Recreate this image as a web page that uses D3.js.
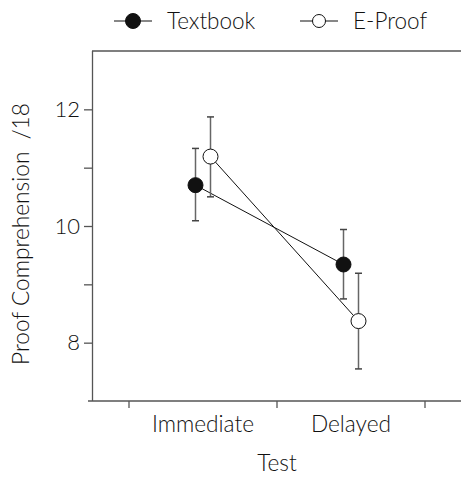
<!DOCTYPE html>
<html>
<head>
<meta charset="utf-8">
<script src="https://cdn.jsdelivr.net/npm/d3@7"></script>
<style>
  body { margin: 0; background: #fff; }
  text { font-family: Lato, "Open Sans", sans-serif; font-weight: 300; fill: #111; white-space: pre; }
</style>
</head>
<body>
<svg id="chart" width="461" height="477"></svg>
<script>
// data
let tests = ['Immediate', 'Delayed'];
let groups = ['Textbook', 'E-Proof'];
let textbookMean = [10.70, 9.34];
let textbookLow = [10.09, 8.75];
let textbookHigh = [11.33, 9.94];
let eproofMean = [11.19, 8.37];
let eproofLow = [10.50, 7.55];
let eproofHigh = [11.87, 9.19];
let yTicks = [8, 9, 10, 11, 12];
let yTickLabels = ['8', '', '10', '', '12'];

let series = [
  {name: 'Textbook', fill: '#111', mean: textbookMean, low: textbookLow, high: textbookHigh},
  {name: 'E-Proof', fill: '#fff', mean: eproofMean, low: eproofLow, high: eproofHigh}
];

let svg = d3.select('#chart');
let mLeft = 92, mRight = 461, mTop = 51, mBottom = 401;

// band edges sit at the ticks, labels in the middle of the bands
let x = d3.scaleBand().domain(tests).range([129, 425]).padding(0);
let y = d3.scaleLinear().domain([7, 13]).range([mBottom, mTop]);
let offset = d3.scalePoint().domain(groups).range([-7.5, 7.5]);

let axisColor = '#555';

// top frame line
svg.append('line')
  .attr('x1', mLeft).attr('x2', mRight)
  .attr('y1', mTop).attr('y2', mTop)
  .attr('stroke', axisColor).attr('stroke-width', 1.3);

// y axis
let yAxis = svg.append('g')
  .attr('transform', `translate(${mLeft},0)`)
  .call(d3.axisLeft(y).tickValues(yTicks).tickFormat((d, i) => yTickLabels[i]).tickSizeOuter(0).tickSize(8).tickPadding(4));
yAxis.select('.domain').attr('stroke', axisColor).attr('stroke-width', 1.3)
  .attr('d', `M0.5,${mTop}V${mBottom}`);
yAxis.selectAll('.tick line').attr('stroke', axisColor).attr('stroke-width', 1.3);
yAxis.selectAll('.tick text').style('font-size', '22px').style('font-family', 'Lato, sans-serif')
  .style('font-weight', 300).attr('fill', '#111');

// x axis: ticks at band boundaries
let edges = tests.map(t => x(t)).concat([x(tests[tests.length - 1]) + x.bandwidth()]);
let xg = svg.append('g');
xg.append('line')
  .attr('x1', mLeft - 4).attr('x2', mRight)
  .attr('y1', mBottom).attr('y2', mBottom)
  .attr('stroke', axisColor).attr('stroke-width', 1.3);
xg.selectAll('.xtick').data(edges).enter().append('line')
  .attr('x1', d => d).attr('x2', d => d)
  .attr('y1', mBottom).attr('y2', mBottom + 7)
  .attr('stroke', axisColor).attr('stroke-width', 1.3);
xg.selectAll('.xlabel').data(tests).enter().append('text')
  .attr('x', d => x(d) + x.bandwidth() / 2)
  .attr('y', mBottom + 31)
  .attr('text-anchor', 'middle')
  .style('font-size', '22.7px')
  .text(d => d);

// axis titles
svg.append('text')
  .attr('x', edges[1]).attr('y', 471)
  .attr('text-anchor', 'middle').style('font-size', '22.7px')
  .text('Test');
svg.append('text')
  .attr('transform', `translate(29,234) rotate(-90)`)
  .attr('text-anchor', 'middle').style('font-size', '22.7px')
  .text('Proof Comprehension  /18');

let cx = (s, i) => x(tests[i]) + x.bandwidth() / 2 + offset(s.name);

// connecting lines
svg.selectAll('.conn').data(series).enter().append('path')
  .attr('fill', 'none').attr('stroke', '#111').attr('stroke-width', 1)
  .attr('d', s => d3.line().x((d, i) => cx(s, i)).y(d => y(d))(s.mean));

// error bars and points
series.forEach(s => {
  let g = svg.append('g');
  s.mean.forEach((m, i) => {
    let px = cx(s, i);
    g.append('line').attr('x1', px).attr('x2', px)
      .attr('y1', y(s.low[i])).attr('y2', y(s.high[i]))
      .attr('stroke', '#666').attr('stroke-width', 1.5);
    [s.low[i], s.high[i]].forEach(v => {
      g.append('line').attr('x1', px - 3.5).attr('x2', px + 3.5)
        .attr('y1', y(v)).attr('y2', y(v))
        .attr('stroke', '#444').attr('stroke-width', 1.5);
    });
    g.append('circle').attr('cx', px).attr('cy', y(m)).attr('r', 7.5)
      .attr('fill', s.fill).attr('stroke', '#111').attr('stroke-width', 1);
  });
});

// legend
let legendX = [114, 300];
let legendR = [7.5, 6.5];
let leg = svg.selectAll('.leg').data(series).enter().append('g')
  .attr('transform', (d, i) => `translate(${legendX[i]},21)`);
leg.append('line').attr('x1', 0).attr('x2', 38).attr('y1', 0).attr('y2', 0)
  .attr('stroke', '#111').attr('stroke-width', 1.2);
leg.append('circle').attr('cx', 19).attr('cy', 0).attr('r', (d, i) => legendR[i])
  .attr('fill', d => d.fill).attr('stroke', '#111').attr('stroke-width', 1);
leg.append('text').attr('x', 53).attr('y', 8).style('font-size', '22.5px')
  .text(d => d.name);
</script>
</body>
</html>
